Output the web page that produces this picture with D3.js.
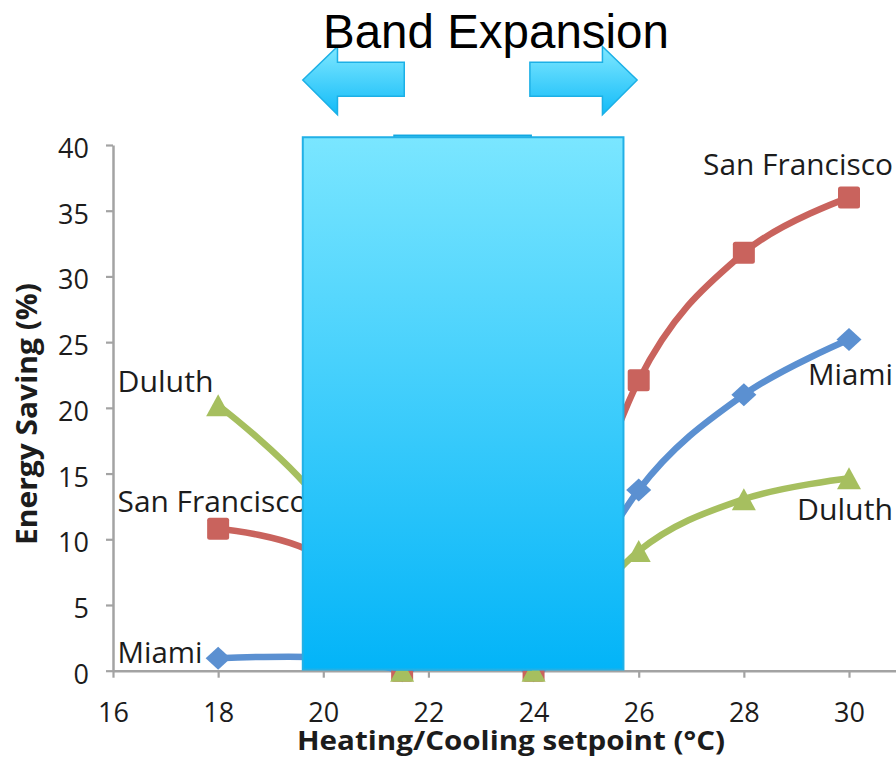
<!DOCTYPE html>
<html><head><meta charset="utf-8">
<script src="https://cdn.jsdelivr.net/npm/d3@7"></script>
<style>body{margin:0;background:#fff} svg{display:block}</style>
</head><body>
<svg id="chart" width="896" height="767"></svg>
<script>
// ---- data ----
const setpoints    = [18, 20, 21.5, 24, 26, 28, 30];
const miami        = [0.95, 1.0, 0, 0, 13.75, 21.0, 25.2];
const sanFrancisco = [10.8, 8.5, 0, 0, 22.1, 31.8, 36.0];
const duluth       = [20.2, 12.5, 0, 0, 9.1, 13.05, 14.65];
const seriesNames  = ["Miami", "San Francisco", "Duluth"];
const xTicks = [16, 18, 20, 22, 24, 26, 28, 30];
const yTicks = [0, 5, 10, 15, 20, 25, 30, 35, 40];
const titleText = "Band Expansion";
const xTitle = "Heating/Cooling setpoint (°C)";
const yTitle = "Energy Saving (%)";
const bandWide   = [19.61, 25.71];
const bandNarrow = [21.35, 23.95];

// ---- layout ----
const svg = d3.select("#chart");
const pxPerUnit = (849 - 113) / 14;
const x = d3.scaleLinear().domain([16, 31.1]).range([113, 113 + 15.1 * pxPerUnit]);
const y = d3.scaleLinear().domain([0, 40]).range([670.7, 145]);

const colors = {"Miami": "#5b90d1", "San Francisco": "#c9635d", "Duluth": "#a6bf5f"};
const axisColor = "#a3a3a3";
const textColor = "#1c1c1c";

const defs = svg.append("defs");
const g1 = defs.append("linearGradient").attr("id", "bandGrad").attr("x1", 0).attr("y1", 0).attr("x2", 0).attr("y2", 1);
g1.append("stop").attr("offset", "0%").attr("stop-color", "#7ae6ff");
g1.append("stop").attr("offset", "100%").attr("stop-color", "#03b4f8");
const g2 = defs.append("linearGradient").attr("id", "arrowGrad").attr("x1", 0).attr("y1", 0).attr("x2", 0).attr("y2", 1);
g2.append("stop").attr("offset", "0%").attr("stop-color", "#80e8ff");
g2.append("stop").attr("offset", "100%").attr("stop-color", "#12bbf8");

// ---- axes ----
const gx = svg.append("g").attr("transform", `translate(0,${y(0)})`)
  .call(d3.axisBottom(x).tickValues(xTicks).tickSize(7).tickSizeOuter(0).tickFormat(d3.format("d")));
const gy = svg.append("g").attr("transform", `translate(${x(16)},0)`)
  .call(d3.axisLeft(y).tickValues(yTicks).tickSize(7).tickSizeOuter(0).tickFormat(d3.format("d")));
[gx, gy].forEach(g => {
  g.select(".domain").attr("stroke", axisColor).attr("stroke-width", 2.5);
  g.selectAll(".tick line").attr("stroke", axisColor).attr("stroke-width", 2.2);
  g.selectAll(".tick text").attr("fill", textColor)
    .style("font-family", "'Open Sans', sans-serif").style("font-size", "27px");
});
gx.selectAll(".tick text").attr("y", 51).attr("dy", 0);
gy.selectAll(".tick text").attr("x", -24).attr("y", 12.5).attr("dy", 0);

// ---- series ----
const seriesValues = [miami, sanFrancisco, duluth];
const line = d3.line().x(d => x(d.x)).y(d => y(d.y)).curve(d3.curveCardinal.tension(0));
const markerPath = {
  "Miami": (cx, cy) => `M${cx},${cy - 11.5}L${cx + 12.5},${cy}L${cx},${cy + 11.5}L${cx - 12.5},${cy}Z`,
  "San Francisco": (cx, cy) => {
    const h = 11, r = 2.5;
    return `M${cx - h + r},${cy - h}H${cx + h - r}Q${cx + h},${cy - h} ${cx + h},${cy - h + r}V${cy + h - r}Q${cx + h},${cy + h} ${cx + h - r},${cy + h}H${cx - h + r}Q${cx - h},${cy + h} ${cx - h},${cy + h - r}V${cy - h + r}Q${cx - h},${cy - h} ${cx - h + r},${cy - h}Z`;
  },
  "Duluth": (cx, cy) => `M${cx},${cy - 11}L${cx + 12},${cy + 11}L${cx - 12},${cy + 11}Z`
};
const bandMid = (bandNarrow[0] + bandNarrow[1]) / 2;

seriesNames.forEach((name, i) => {
  const pts = setpoints.map((s, j) => ({x: s, y: seriesValues[i][j]}));
  const parts = [pts.filter(p => p.x < bandMid), pts.filter(p => p.x > bandMid)];
  const g = svg.append("g");
  parts.forEach(p => {
    g.append("path").attr("d", line(p)).attr("fill", "none")
      .attr("stroke", colors[name]).attr("stroke-width", 6.5)
      .attr("stroke-linecap", "round").attr("stroke-linejoin", "round");
  });
  g.selectAll("path.m").data(pts).enter().append("path").attr("class", "m")
    .attr("d", d => markerPath[name](x(d.x), y(d.y)))
    .attr("fill", colors[name]);
});

// ---- series labels ----
const labelStyle = sel => sel.attr("fill", textColor)
  .style("font-family", "'Open Sans', sans-serif").style("font-size", "29px");
const leftLabels = [
  {name: "Duluth", y: 391.5, len: 96},
  {name: "San Francisco", y: 511.5, len: 190},
  {name: "Miami", y: 662.5, len: 85}
];
const rightLabels = [
  {name: "San Francisco", y: 175, len: 190},
  {name: "Miami", y: 385, len: 85},
  {name: "Duluth", y: 520, len: 96}
];
leftLabels.forEach(l => {
  svg.append("text").attr("x", 117.5).attr("y", l.y).text(l.name)
    .attr("textLength", l.len).attr("lengthAdjust", "spacingAndGlyphs").call(labelStyle);
});
rightLabels.forEach(l => {
  svg.append("text").attr("x", 893 - l.len).attr("y", l.y).text(l.name)
    .attr("textLength", l.len).attr("lengthAdjust", "spacingAndGlyphs").call(labelStyle);
});

// ---- bands ----
svg.append("rect")
  .attr("x", x(bandNarrow[0])).attr("y", y(40.72))
  .attr("width", x(bandNarrow[1]) - x(bandNarrow[0])).attr("height", y(0.09) - y(40.72))
  .attr("fill", "url(#bandGrad)").attr("stroke", "#10a8e2").attr("stroke-width", 2);
svg.append("rect")
  .attr("x", x(bandWide[0])).attr("y", y(40.59))
  .attr("width", x(bandWide[1]) - x(bandWide[0])).attr("height", y(0.09) - y(40.59))
  .attr("fill", "url(#bandGrad)").attr("stroke", "#22b0e6").attr("stroke-width", 2);

// ---- arrows ----
function arrow(tip, headBase, shaftEnd) {
  const pts = [
    [tip, 44.95], [headBase, 47.5], [headBase, 46.3], [shaftEnd, 46.3],
    [shaftEnd, 43.7], [headBase, 43.7], [headBase, 42.3]
  ];
  return "M" + pts.map(p => `${x(p[0])},${y(p[1])}`).join("L") + "Z";
}
svg.append("path").attr("d", arrow(19.61, 20.27, 21.54))
  .attr("fill", "url(#arrowGrad)").attr("stroke", "#1cb0e6").attr("stroke-width", 1.5);
svg.append("path").attr("d", arrow(25.97, 25.31, 23.93))
  .attr("fill", "url(#arrowGrad)").attr("stroke", "#1cb0e6").attr("stroke-width", 1.5);

// ---- titles ----
svg.append("text").attr("x", 323).attr("y", 48).text(titleText)
  .attr("fill", "#000").style("font-family", "'Liberation Sans', Arial, sans-serif").style("font-size", "47.5px");
svg.append("text").attr("x", 511).attr("y", 750).attr("text-anchor", "middle").text(xTitle)
  .attr("textLength", 428).attr("lengthAdjust", "spacingAndGlyphs")
  .attr("fill", textColor).style("font-family", "'Open Sans', sans-serif")
  .style("font-size", "27.5px").style("font-weight", "bold");
svg.append("text").attr("transform", "translate(37,414) rotate(-90)").attr("text-anchor", "middle").text(yTitle)
  .attr("textLength", 262).attr("lengthAdjust", "spacingAndGlyphs")
  .attr("fill", textColor).style("font-family", "'Open Sans', sans-serif")
  .style("font-size", "29px").style("font-weight", "bold");
</script>
</body></html>
